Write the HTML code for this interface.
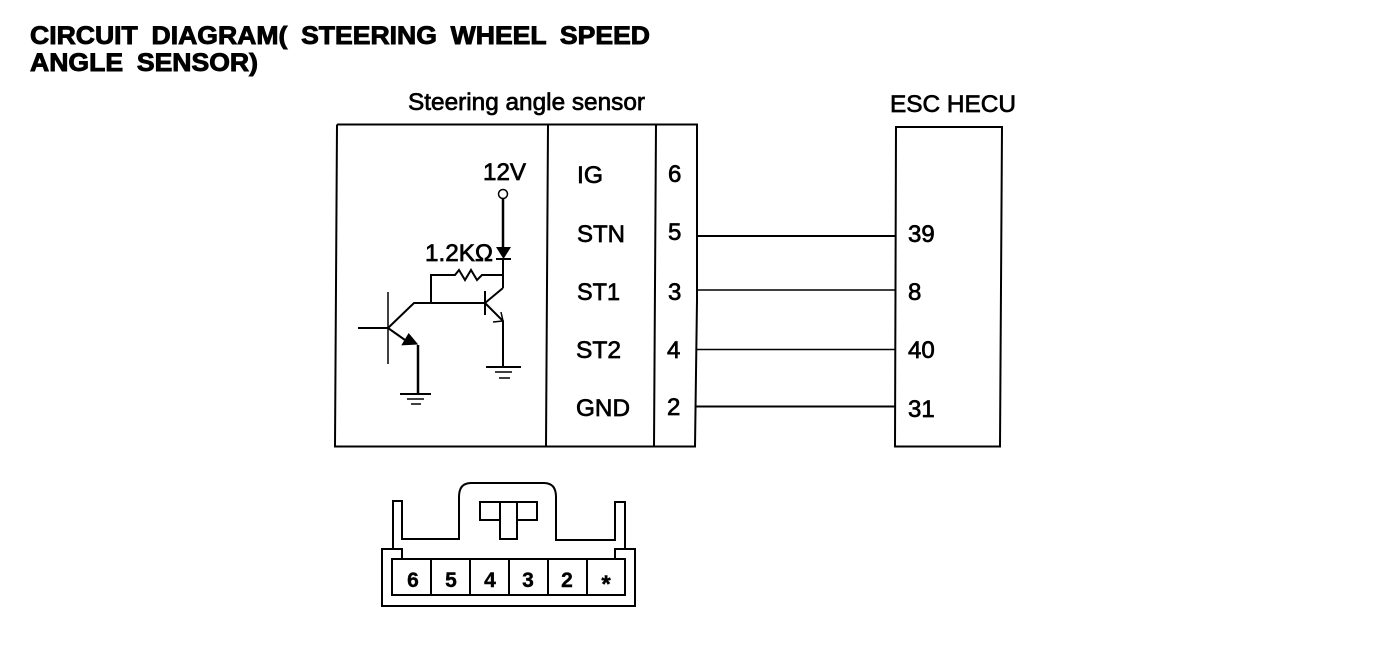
<!DOCTYPE html>
<html>
<head>
<meta charset="utf-8">
<style>
html,body{margin:0;padding:0;background:#fff;width:1376px;height:656px;overflow:hidden}
svg{display:block}
text{font-family:"Liberation Sans",sans-serif;fill:#000;stroke:#000}
.t{font-weight:bold;font-size:25px;stroke-width:.9px;word-spacing:6px}
.l{font-size:24px;stroke-width:.7px}
.n{font-size:21px;font-weight:bold;stroke-width:.4px}
</style>
</head>
<body>
<svg width="1376" height="656" viewBox="0 0 1376 656" xmlns="http://www.w3.org/2000/svg">
<rect width="1376" height="656" fill="#fff"/>

<!-- Title -->
<text class="t" x="30" y="44" textLength="620" lengthAdjust="spacingAndGlyphs">CIRCUIT DIAGRAM( STEERING WHEEL SPEED</text>
<text class="t" x="30" y="71" textLength="228" lengthAdjust="spacingAndGlyphs">ANGLE SENSOR)</text>

<!-- Headings -->
<text class="l" x="408" y="110" textLength="237" lengthAdjust="spacingAndGlyphs">Steering angle sensor</text>
<text class="l" x="890" y="112" textLength="126" lengthAdjust="spacingAndGlyphs">ESC HECU</text>

<!-- Boxes -->
<g fill="none" stroke="#000" stroke-width="2">
<path d="M337 124.500 H697 V300 L695 446.500 H335 L337 124.500"/>
<path d="M548 125 L546 446"/>
<path d="M656 125 L654 446"/>
<path d="M896 127 H1002 L1000 446.500 H895 Z"/>
<!-- Wires -->
<path d="M697 236 H896"/>
<path d="M696 290 H896" stroke-width="1.500"/>
<path d="M696 349.500 H895" stroke-width="1.500"/>
<path d="M696 406.500 H895"/>
</g>

<!-- Box labels -->
<text class="l" x="577" y="183" textLength="26" lengthAdjust="spacingAndGlyphs">IG</text>
<text class="l" x="577" y="242" textLength="48" lengthAdjust="spacingAndGlyphs">STN</text>
<text class="l" x="577" y="300" textLength="43" lengthAdjust="spacingAndGlyphs">ST1</text>
<text class="l" x="576" y="358" textLength="45" lengthAdjust="spacingAndGlyphs">ST2</text>
<text class="l" x="576" y="416" textLength="54" lengthAdjust="spacingAndGlyphs">GND</text>
<text class="l" x="668" y="182">6</text>
<text class="l" x="668" y="240">5</text>
<text class="l" x="668" y="300">3</text>
<text class="l" x="667" y="358">4</text>
<text class="l" x="667" y="415">2</text>
<text class="l" x="908" y="242">39</text>
<text class="l" x="908" y="300">8</text>
<text class="l" x="908" y="358">40</text>
<text class="l" x="908" y="417">31</text>
<text class="l" x="483" y="180" textLength="43" lengthAdjust="spacingAndGlyphs">12V</text>
<text class="l" x="425" y="261" textLength="68" lengthAdjust="spacingAndGlyphs">1.2KΩ</text>

<!-- Circuit -->
<g fill="none" stroke="#000" stroke-width="2">
<circle cx="503" cy="194" r="4.500" stroke-width="1.500"/>
<path d="M503 198 V248" stroke-width="2.500"/>
<path d="M496 259 H511" />
<path d="M503 259 V288"/>
<path d="M431 302 V275 H455 L459 270 L465 280 L471 270 L477 280 L482 275 H503"/>
<path d="M358 328 H388"/>
<path d="M388 292 V364" stroke-width="1.500"/>
<path d="M388 328 L414 303 H485"/>
<path d="M485 291 V315" stroke-width="2"/>
<path d="M485 303 L503 288"/>
<path d="M485 303 L503 321 V367"/>
<path d="M493 322 L503 321 L501 312" stroke-width="1.500"/>
<path d="M388 328 L405 340"/>
<path d="M418 345 V393" stroke-width="2.500"/>
<path d="M400 394 H431"/>
<path d="M407 399 H424" stroke-width="1.500"/>
<path d="M411 404 H421" stroke-width="1.500"/>
<path d="M486 367 H521"/>
<path d="M495 372 H512" stroke-width="1.500"/>
<path d="M499 378 H510" stroke-width="1.500"/>
</g>
<path d="M496 247 H511 L503.500 259 Z" fill="#000"/>
<path d="M409 333 L418 345 L401 345 Z" fill="#000" transform="rotate(-3 409 340)"/>

<!-- Connector -->
<g fill="none" stroke="#000" stroke-width="2">
<path d="M393 550 V501 H402 V539 H459 V497 Q459 483 471 483 H544 Q556 483 556 497 V540 H615 V502 H625 V550"/>
<path d="M500 502 H480 V520 H500 M518 520 H537 V502 H518"/>
<path d="M500 502 H518 M500 502 V539 H517 V502" />
<path d="M402 558 V549 H382 V606 H635 V549 H615 V558"/>
<rect x="392" y="559" width="233" height="36"/>
<path d="M431 559 V595 M470 559 V595 M509 559 V595 M548 559 V595 M587 559 V595"/>
</g>
<text class="n" x="413" y="587" text-anchor="middle">6</text>
<text class="n" x="451" y="587" text-anchor="middle">5</text>
<text class="n" x="490" y="587" text-anchor="middle">4</text>
<text class="n" x="528" y="587" text-anchor="middle">3</text>
<text class="n" x="567" y="587" text-anchor="middle">2</text>
<text class="n" x="606" y="592" text-anchor="middle" style="font-size:24px">*</text>
</svg>
</body>
</html>
